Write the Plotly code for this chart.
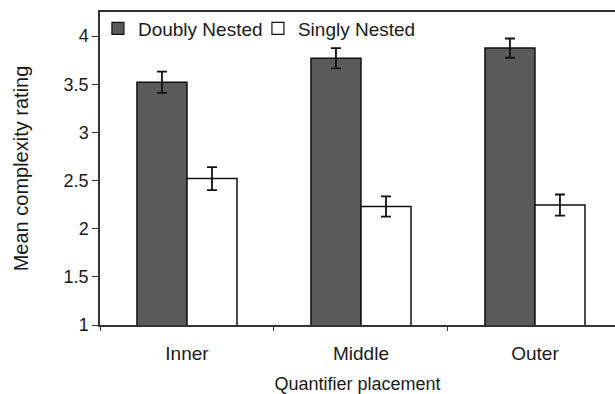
import plotly.graph_objects as go

categories = ["Inner", "Middle", "Outer"]
series_names = ["Doubly Nested", "Singly Nested"]
doubly = [3.52, 3.77, 3.875]
doubly_err = [0.11, 0.105, 0.10]
singly = [2.52, 2.23, 2.245]
singly_err = [0.12, 0.105, 0.11]
y_ticks = [1, 1.5, 2, 2.5, 3, 3.5, 4]
y_ticktext = ["1", "1.5", "2", "2.5", "3", "3.5", "4"]

font_family = "Arial, Liberation Sans, Helvetica, sans-serif"
dark = "#5a5a5a"

fig = go.Figure()
fig.add_trace(go.Bar(
    name=series_names[0], x=categories, y=doubly, showlegend=False,
    marker=dict(color=dark, line=dict(color="#111", width=1.5)),
    error_y=dict(type="data", array=doubly_err, color="#111", thickness=1.8, width=5),
))
fig.add_trace(go.Bar(
    name=series_names[1], x=categories, y=singly, showlegend=False,
    marker=dict(color="white", line=dict(color="#111", width=1.5)),
    error_y=dict(type="data", array=singly_err, color="#111", thickness=1.8, width=5),
))
# legend entries (square swatches)
for nm, col in zip(series_names, [dark, "white"]):
    fig.add_trace(go.Scatter(
        x=[None], y=[None], mode="markers", name=nm,
        marker=dict(symbol="square", size=12, color=col, line=dict(color="#111", width=1.2)),
    ))

fig.update_layout(
    width=615, height=394,
    margin=dict(l=100, r=0, t=12, b=69),
    paper_bgcolor="white", plot_bgcolor="white",
    barmode="group", bargap=0.425, bargroupgap=0,
    font=dict(family=font_family, size=17, color="#1a1a1a"),
    showlegend=True,
    legend=dict(orientation="h", x=-0.004, y=1.008, xanchor="left", yanchor="top",
                bgcolor="rgba(0,0,0,0)", font=dict(size=19), itemwidth=30,
                entrywidth=115, entrywidthmode="pixels",
                traceorder="normal", tracegroupgap=0),
    xaxis=dict(
        type="category", range=[-0.5, 2.46], automargin=False,
        showline=True, linecolor="#333", linewidth=1.5, mirror=True,
        ticks="outside", tickson="boundaries", ticklen=4, tickcolor="#333",
        ticklabelstandoff=10,
        tickfont=dict(size=19),
        showgrid=False, zeroline=False,
        title=dict(text="Quantifier placement", standoff=17, font=dict(size=18)),
    ),
    yaxis=dict(
        range=[1, 4.25], tickvals=y_ticks, ticktext=y_ticktext, automargin=False,
        showline=True, linecolor="#333", linewidth=1.5,
        ticks="outside", ticklen=6, tickcolor="#333",
        ticklabelstandoff=0,
        tickfont=dict(size=18),
        showgrid=False, zeroline=False,
        title=dict(text="Mean complexity rating", standoff=30, font=dict(size=20)),
    ),
)

fig.write_html("out.html", config={"displayModeBar": False},
               post_script="document.body.style.margin='0';")
